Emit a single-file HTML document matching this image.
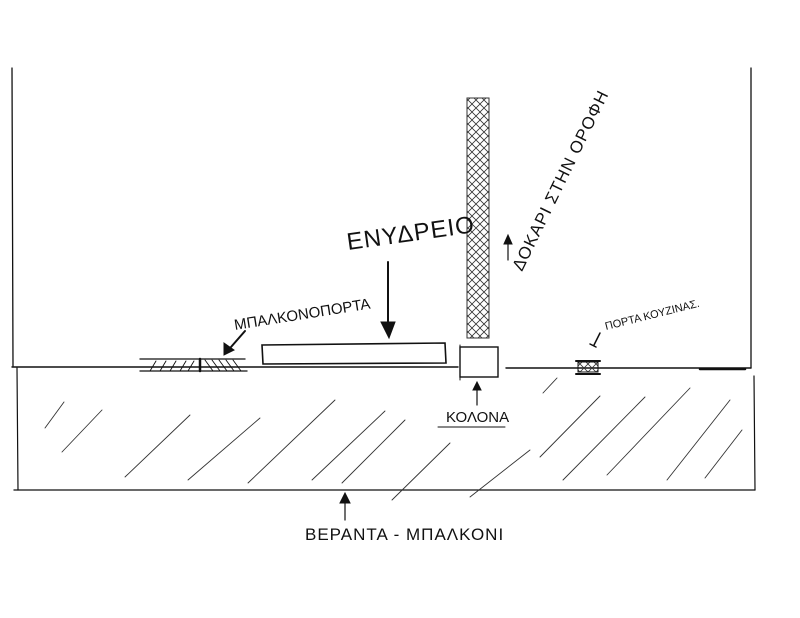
<!DOCTYPE html>
<html><head><meta charset="utf-8"><style>html,body{margin:0;padding:0;background:#fff}svg{display:block}text{font-family:"Liberation Sans","DejaVu Sans",sans-serif;fill:#111}</style></head>
<body>
<svg width="800" height="618" viewBox="0 0 800 618" xmlns="http://www.w3.org/2000/svg">
<defs>
<pattern id="xh" width="8" height="8" patternUnits="userSpaceOnUse">
<path d="M0 8L8 0M0 0L8 8" stroke="#333" stroke-width="0.8"/>
</pattern>
</defs>
<g stroke="#111" fill="none" stroke-linecap="round">
<line x1="12" y1="68" x2="13" y2="366" stroke-width="1.3"/>
<line x1="751" y1="68" x2="751" y2="368" stroke-width="1.3"/>
<line x1="17" y1="368" x2="18" y2="490" stroke-width="1.2"/>
<line x1="754" y1="376" x2="755" y2="490" stroke-width="1.2"/>
<line x1="14" y1="490" x2="755" y2="490" stroke-width="1.3"/>
<line x1="12" y1="367" x2="458" y2="367" stroke-width="1.4"/>
<line x1="506" y1="368" x2="751" y2="368" stroke-width="1.4"/>
<line x1="700" y1="369" x2="745" y2="369" stroke-width="2.5"/>
<line x1="140" y1="359" x2="245" y2="359" stroke-width="1.3"/>
<line x1="140" y1="371" x2="247" y2="371" stroke-width="1.3"/>
<line x1="200" y1="359" x2="200" y2="371" stroke-width="2.5"/>
<g stroke-width="0.9"><path d="M150 371l6-10M160 371l6-10M170 371l6-10M180 371l6-10M188 371l6-10"/><path d="M205 360l8 11M212 360l8 11M219 360l8 11M226 360l8 11M233 360l8 11"/></g>
<path d="M262 345L445 343L446 363L263 364Z" stroke-width="1.6"/>
<rect x="460" y="347" width="38" height="30" stroke-width="1.4"/>
<line x1="460" y1="345" x2="460" y2="380" stroke-width="1"/>
<rect x="467" y="98" width="22" height="240" fill="url(#xh)" stroke="#333" stroke-width="1"/>
<rect x="578" y="362" width="20" height="10" fill="url(#xh)" stroke-width="1"/>
<line x1="576" y1="361" x2="600" y2="361" stroke-width="2"/>
<line x1="576" y1="374" x2="600" y2="374" stroke-width="2"/>
<g stroke="#333" stroke-width="0.9">
<path d="M45 428L64 402M62 452L102 410M125 477L190 415M188 480L260 418M248 483L335 400M312 480L385 411M342 483L405 420M392 500L450 443M470 497L530 450M543 393L557 378M540 457L600 396M563 480L645 397M607 475L690 388M667 480L730 400M705 478L742 430"/>
</g>
<line x1="388" y1="262" x2="388" y2="325" stroke-width="2"/>
<path d="M381 322L395 322L389 338Z" fill="#111"/>
<line x1="245" y1="331" x2="231" y2="347" stroke-width="2"/>
<path d="M224 343L234 350L224 355Z" fill="#111"/>
<line x1="477" y1="385" x2="477" y2="405" stroke-width="1.2"/>
<path d="M473 390L477 382L481 390Z" fill="#111"/>
<line x1="345" y1="497" x2="345" y2="520" stroke-width="1.2"/>
<path d="M340 503L345 493L350 503Z" fill="#111"/>
<line x1="508" y1="238" x2="508" y2="260" stroke-width="1.2"/>
<path d="M504 244L508 235L512 244Z" fill="#111"/>
<path d="M600 333L594 345M590 344L596 347" stroke-width="1.5"/>
<line x1="438" y1="427" x2="505" y2="427" stroke-width="1"/>
</g>
<text x="348" y="250" font-size="24" transform="rotate(-8 348 250)" letter-spacing="1">ΕΝΥΔΡΕΙΟ</text>
<text x="235" y="330" font-size="15" transform="rotate(-9 235 330)">ΜΠΑΛΚΟΝΟΠΟΡΤΑ</text>
<text x="522" y="272" font-size="17" transform="rotate(-64 522 272)" letter-spacing="1">ΔΟΚΑΡΙ ΣΤΗΝ ΟΡΟΦΗ</text>
<text x="606" y="330" font-size="11" transform="rotate(-14 606 330)">ΠΟΡΤΑ ΚΟΥΖΙΝΑΣ.</text>
<text x="446" y="422" font-size="15">ΚΟΛΟΝΑ</text>
<text x="305" y="540" font-size="17" letter-spacing="1">ΒΕΡΑΝΤΑ - ΜΠΑΛΚΟΝΙ</text>
</svg>
</body></html>
